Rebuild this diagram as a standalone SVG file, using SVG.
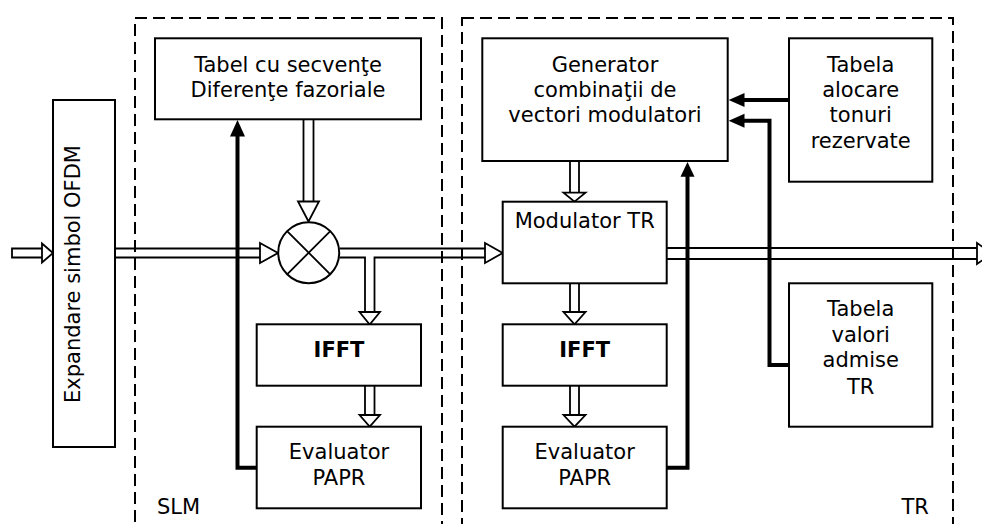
<svg xmlns="http://www.w3.org/2000/svg" width="982" height="524" viewBox="0 0 982 524">
<style>
.box{fill:#fff;stroke:#000;stroke-width:2}
.dash{fill:none;stroke:#000;stroke-width:2;stroke-dasharray:12 6}
.t{font-family:"DejaVu Sans","Verdana",sans-serif;font-size:21px;fill:#000;text-anchor:middle}
.b{font-weight:bold}
.l{font-family:"DejaVu Sans","Verdana",sans-serif;font-size:21px;fill:#000}
.hs{fill:none;stroke:#000;stroke-width:1.8}
.hh{fill:#fff;stroke:#000;stroke-width:1.8;stroke-linejoin:miter}
.thick{fill:none;stroke:#000;stroke-width:4;stroke-linejoin:miter}
.fh{fill:#000;stroke:none}
</style>
<rect x="0" y="0" width="982" height="524" fill="#fff"/>

<g id="connectors">
  <!-- input hollow arrow -->
  <path class="hs" d="M42 248.5 H12 V257.5 H42"/>
  <polygon class="hh" points="42,243.5 53,253 42,262.5"/>
  <!-- Expandare to mixer -->
  <path class="hs" d="M115 248.5 H260 M115 257.5 H260"/>
  <polygon class="hh" points="260,243 278,253 260,263"/>
  <!-- Tabel to mixer -->
  <path class="hs" d="M303.5 120 V201.5 M313.5 120 V201.5"/>
  <polygon class="hh" points="298,201.5 319,201.5 308.5,221.5"/>
  <!-- mixer to modulator -->
  <path class="hs" d="M339.5 248.5 H485 M339.5 257.5 H365 V312 M374.5 312 V257.5 H485"/>
  <polygon class="hh" points="485,243 502.7,253 485,263"/>
  <!-- branch head to IFFT SLM -->
  <polygon class="hh" points="359.5,312 380,312 369.7,324.5"/>
  <!-- IFFT SLM to Evaluator SLM -->
  <path class="hs" d="M365 386 V415 M374.5 386 V415"/>
  <polygon class="hh" points="359.5,415 380,415 369.7,426.7"/>
  <!-- Generator to Modulator -->
  <path class="hs" d="M570 162 V192.7 M579 162 V192.7"/>
  <polygon class="hh" points="563.5,192.7 585.5,192.7 574.5,201.7"/>
  <!-- Modulator to IFFT TR -->
  <path class="hs" d="M570 284 V312 M579 284 V312"/>
  <polygon class="hh" points="563.5,312 585.5,312 574.5,324.3"/>
  <!-- IFFT TR to Evaluator TR -->
  <path class="hs" d="M570 386 V415 M579 386 V415"/>
  <polygon class="hh" points="563.5,415 585.5,415 574.5,426.7"/>
  <!-- output -->
  <path class="hs" d="M667 248 H977 M667 259 H977"/>
  <polygon class="hh" points="977,243 992,253.5 977,264"/>
  <!-- feedback SLM -->
  <path class="thick" d="M257 467.7 H237.5 V135"/>
  <polygon class="fh" points="230,136.5 245,136.5 237.5,120"/>
  <!-- feedback TR -->
  <path class="thick" d="M667 467.7 H687.5 V175"/>
  <polygon class="fh" points="680.5,176.7 694.5,176.7 687.5,162"/>
  <!-- alocare to generator -->
  <path class="thick" d="M789 100 H743"/>
  <polygon class="fh" points="744.5,93 744.5,107 728.7,100"/>
  <!-- valori to generator -->
  <path class="thick" d="M789 365 H769.5 V120.7 H743"/>
  <polygon class="fh" points="744.5,113.7 744.5,127.7 728.7,120.7"/>
</g>

<g id="slm-group">
  <rect class="dash" x="135" y="18" width="307" height="530"/>
  <text class="l" x="157" y="514">SLM</text>
</g>
<g id="tr-group">
  <rect class="dash" x="462" y="18" width="491" height="530"/>
  <text class="l" x="901.5" y="513.5">TR</text>
</g>

<g id="expandare">
  <rect class="box" x="53" y="100" width="62" height="347"/>
  <text class="t" transform="translate(80,274) rotate(-90)">Expandare simbol OFDM</text>
</g>

<g id="tabel-secvente">
  <rect class="box" x="155" y="38.3" width="266" height="81"/>
  <text class="t" x="288" y="71.7">Tabel cu secvenţe</text>
  <text class="t" x="288" y="96.7">Diferenţe fazoriale</text>
</g>

<g id="mixer">
  <circle cx="308.7" cy="252.7" r="30.5" fill="#fff" stroke="#000" stroke-width="2"/>
  <path d="M287.1 231.1 L330.3 274.3 M330.3 231.1 L287.1 274.3" stroke="#000" stroke-width="1.8"/>
</g>

<g id="ifft-slm">
  <rect class="box" x="256.7" y="324.3" width="164.3" height="61.4"/>
  <text class="t b" x="339" y="357.3">IFFT</text>
</g>

<g id="evaluator-slm">
  <rect class="box" x="256.7" y="426.7" width="164.3" height="81.6"/>
  <text class="t" x="339" y="459.3">Evaluator</text>
  <text class="t" x="339" y="485">PAPR</text>
</g>

<g id="generator">
  <rect class="box" x="482.3" y="38.3" width="245.4" height="122.7"/>
  <text class="t" x="605" y="71.7">Generator</text>
  <text class="t" x="605" y="96.7">combinaţii de</text>
  <text class="t" x="605" y="121.7">vectori modulatori</text>
</g>

<g id="tabela-alocare">
  <rect class="box" x="789" y="38.3" width="143.3" height="143.4"/>
  <text class="t" x="860.7" y="71.5">Tabela</text>
  <text class="t" x="860.7" y="96.7">alocare</text>
  <text class="t" x="860.7" y="122">tonuri</text>
  <text class="t" x="860.7" y="147.5">rezervate</text>
</g>

<g id="modulator-tr">
  <rect class="box" x="502.7" y="201.7" width="164" height="81.6"/>
  <text class="t" x="584.7" y="228.3">Modulator TR</text>
</g>

<g id="ifft-tr">
  <rect class="box" x="502.7" y="324.3" width="164" height="61.4"/>
  <text class="t b" x="584.7" y="357.3">IFFT</text>
</g>

<g id="evaluator-tr">
  <rect class="box" x="502.7" y="426.7" width="164" height="81.6"/>
  <text class="t" x="584.7" y="459.3">Evaluator</text>
  <text class="t" x="584.7" y="485">PAPR</text>
</g>

<g id="tabela-valori">
  <rect class="box" x="789" y="283.3" width="143.3" height="143.4"/>
  <text class="t" x="860.7" y="316">Tabela</text>
  <text class="t" x="860.7" y="341.7">valori</text>
  <text class="t" x="860.7" y="367.3">admise</text>
  <text class="t" x="860.7" y="394">TR</text>
</g>
</svg>
